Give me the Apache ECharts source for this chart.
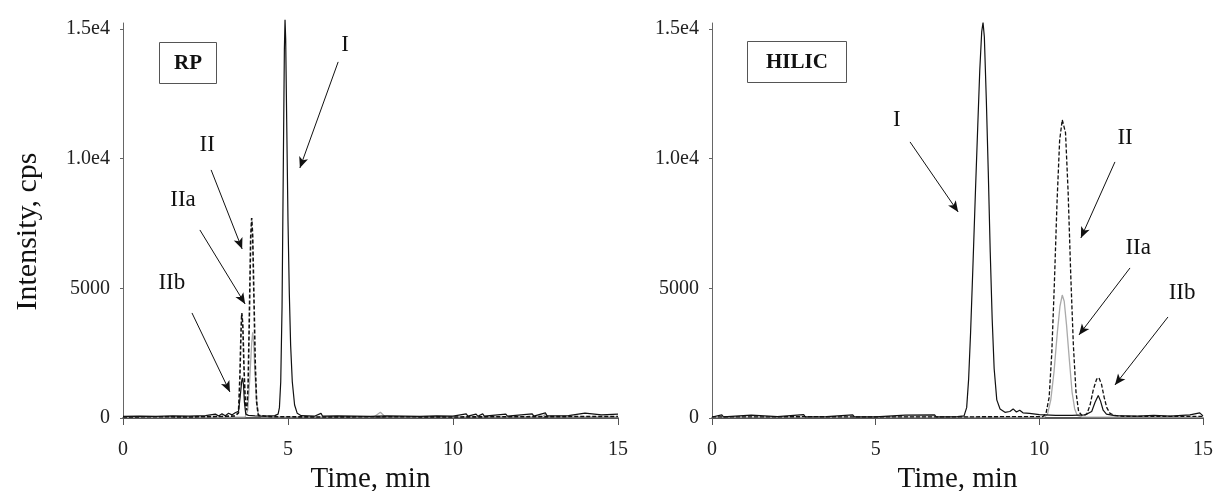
<!DOCTYPE html>
<html>
<head>
<meta charset="utf-8">
<script src="https://cdn.jsdelivr.net/npm/echarts@6/dist/echarts.min.js"></script>
<style>
  html, body { margin: 0; padding: 0; background: #fff; }
  #chart { width: 1219px; height: 491px; }
</style>
</head>
<body>
<div id="chart"></div>
<script>
// chromatograms, [time (min), intensity (cps)]
var rpSolid = [[0,60],[0.5,70],[1.0,60],[1.5,80],[2.0,70],[2.5,90],[2.8,150],[2.9,80],[3.0,160],[3.1,90],[3.2,180],[3.3,120],[3.4,200],[3.45,150],[3.5,260],[3.55,800],[3.6,1450],[3.62,1550],[3.65,1300],[3.68,600],[3.72,150],[3.8,100],[3.9,90],[4.0,80],[4.3,70],[4.6,90],[4.7,150],[4.74,400],[4.78,1400],[4.82,4300],[4.86,10000],[4.89,14200],[4.91,15350],[4.93,14600],[4.96,11500],[5.0,7600],[5.04,4800],[5.08,2800],[5.13,1400],[5.2,500],[5.28,180],[5.4,90],[5.8,70],[6.0,180],[6.05,70],[6.5,80],[7.0,70],[7.5,60],[8.0,80],[8.5,70],[9.0,60],[9.5,80],[10.0,70],[10.4,160],[10.45,70],[10.7,150],[10.75,70],[10.9,160],[10.95,70],[11.6,150],[11.65,70],[12.4,160],[12.45,70],[12.8,200],[12.85,80],[13.5,90],[14.0,190],[14.05,130],[14.5,120],[15,150]];
var rpDashed = [[0,40],[1,50],[2,40],[3,60],[3.4,80],[3.5,200],[3.54,1500],[3.58,3500],[3.6,4050],[3.63,3600],[3.67,1800],[3.71,500],[3.75,300],[3.79,1200],[3.83,4000],[3.87,7000],[3.9,7710],[3.93,7000],[3.97,4500],[4.01,2000],[4.05,600],[4.1,100],[4.5,50],[6,40],[8,50],[10,40],[12,50],[15,60]];
var rpGray = [[0,30],[3,30],[3.7,40],[3.78,300],[3.84,1500],[3.9,2900],[3.93,3300],[3.96,2900],[4.0,1700],[4.05,600],[4.1,150],[4.2,40],[7.6,40],[7.8,220],[7.85,180],[7.95,40],[12.7,40],[12.8,150],[12.9,40],[15,40]];

var hilicSolid = [[0,40],[0.3,120],[0.35,40],[1.2,110],[1.25,40],[2.0,50],[2.8,130],[2.85,40],[3.5,50],[4.3,120],[4.35,40],[5,40],[5.9,110],[5.95,40],[6.8,120],[6.85,40],[7.5,50],[7.7,80],[7.78,400],[7.84,1500],[7.9,3300],[7.97,5800],[8.05,8800],[8.12,11300],[8.18,13400],[8.24,14900],[8.28,15250],[8.32,14700],[8.38,12300],[8.44,9500],[8.5,6400],[8.56,3800],[8.62,1900],[8.7,700],[8.8,350],[8.95,220],[9.1,250],[9.2,350],[9.3,230],[9.4,300],[9.5,200],[9.7,180],[10.0,130],[10.5,100],[11.0,100],[11.4,120],[11.6,250],[11.7,600],[11.8,870],[11.87,650],[11.95,300],[12.05,150],[12.3,90],[13,70],[13.5,100],[14,70],[14.6,120],[14.9,200],[15,80]];
var hilicDashed = [[0,40],[3,50],[6,40],[9,50],[10.1,50],[10.2,150],[10.3,800],[10.38,2500],[10.46,5200],[10.54,8300],[10.62,10700],[10.7,11500],[10.75,11560],[10.8,11000],[10.88,8700],[10.96,5500],[11.04,2800],[11.12,1000],[11.2,250],[11.3,100],[11.45,150],[11.55,500],[11.65,1100],[11.75,1500],[11.82,1550],[11.9,1300],[11.98,800],[12.06,400],[12.16,180],[12.3,100],[12.6,60],[15,60]];
var hilicGray = [[0,30],[10.15,30],[10.25,150],[10.35,700],[10.45,1800],[10.55,3300],[10.63,4300],[10.7,4740],[10.76,4500],[10.83,3600],[10.92,2200],[11.0,1000],[11.08,350],[11.16,100],[11.3,40],[15,30]];

var xTicks = [0, 5, 10, 15];
var yTicks = [0, 5000, 10000, 15000];
var yTickLabels = ['0', '5000', '1.0e4', '1.5e4'];

// annotation: label, label position, arrow start, arrow tip
var rpNotes = [
  ['I', [6.73, 14385], [6.52, 13730], [5.36, 9640]],
  ['II', [2.55, 10530], [2.67, 9565], [3.61, 6518]],
  ['IIa', [1.82, 8407], [2.33, 7250], [3.70, 4396]],
  ['IIb', [1.48, 5206], [2.09, 4050], [3.24, 1003]]
];
var hilicNotes = [
  ['I', [5.65, 11492], [6.05, 10644], [7.52, 7944]],
  ['II', [12.62, 10798], [12.31, 9873], [11.27, 6942]],
  ['IIa', [13.02, 6556], [12.77, 5785], [11.21, 3201]],
  ['IIb', [14.36, 4821], [13.93, 3895], [12.31, 1273]]
];

var serif = 'Liberation Serif';

function xAxis(idx) {
  return {
    type: 'value', gridIndex: idx, min: 0, max: 15, interval: 5,
    name: 'Time, min', nameLocation: 'middle', nameGap: 46,
    nameTextStyle: { fontFamily: serif, fontSize: 29, color: '#111' },
    axisLine: { lineStyle: { color: '#222', width: 1.5 } },
    axisTick: { length: 7, lineStyle: { color: '#555' }, customValues: xTicks },
    axisLabel: { margin: 22, fontFamily: serif, fontSize: 20, color: '#222', customValues: xTicks },
    splitLine: { show: false }
  };
}

function yAxis(idx, withName) {
  return {
    type: 'value', gridIndex: idx, min: 0, max: 15230,
    name: withName ? 'Intensity, cps' : '', nameLocation: 'middle', nameGap: 80,
    nameTextStyle: { fontFamily: serif, fontSize: 30, color: '#111', padding: [0, 22, 0, 0] },
    axisLine: { show: true, lineStyle: { color: '#666', width: 1 } },
    axisTick: { show: true, length: 3, lineStyle: { color: '#666' }, customValues: yTicks },
    axisLabel: {
      margin: 13, fontFamily: serif, fontSize: 20, color: '#222', customValues: yTicks,
      formatter: function (v) { return yTickLabels[yTicks.indexOf(v)]; }
    },
    splitLine: { show: false }
  };
}

function line(idx, data, color, width, dash) {
  return {
    type: 'line', xAxisIndex: idx, yAxisIndex: idx, data: data,
    showSymbol: false, clip: false, silent: true, animation: false,
    lineStyle: { color: color, width: width, type: dash || 'solid' }
  };
}

function notes(idx, list) {
  return {
    type: 'line', xAxisIndex: idx, yAxisIndex: idx, data: [], silent: true, animation: false,
    markLine: {
      symbol: ['none', 'arrow'], symbolSize: [7, 11], animation: false, silent: true,
      label: { show: false },
      lineStyle: { color: '#111', width: 1, type: 'solid' },
      data: list.map(function (n) { return [{ coord: n[2] }, { coord: n[3] }]; })
    },
    markPoint: {
      symbol: 'circle', symbolSize: 0, animation: false, silent: true,
      label: { show: true, position: 'inside', fontFamily: serif, fontSize: 23, color: '#111',
        formatter: function (p) { return p.name; } },
      data: list.map(function (n) { return { name: n[0], coord: n[1] }; })
    }
  };
}

var chart = echarts.init(document.getElementById('chart'));
chart.setOption({
  backgroundColor: '#fff',
  animation: false,
  title: [
    { text: 'RP', left: 159, top: 42, padding: [11, 15, 10, 15], borderColor: '#555', borderWidth: 1,
      textStyle: { fontFamily: serif, fontWeight: 'bold', fontSize: 21, color: '#111' } },
    { text: 'HILIC', left: 747, top: 41, padding: [11, 19, 10, 19], borderColor: '#555', borderWidth: 1,
      textStyle: { fontFamily: serif, fontWeight: 'bold', fontSize: 21, color: '#111' } }
  ],
  grid: [
    { left: 123, right: 601, top: 23, bottom: 73, outerBoundsMode: 'none' },
    { left: 712, right: 16, top: 23, bottom: 73, outerBoundsMode: 'none' }
  ],
  xAxis: [xAxis(0), xAxis(1)],
  yAxis: [yAxis(0, true), yAxis(1, false)],
  series: [
    line(0, rpGray, '#aaaaaa', 1.3),
    line(0, rpDashed, '#111', 1.6, [4, 2]),
    line(0, rpSolid, '#111', 1.2),
    notes(0, rpNotes),
    line(1, hilicGray, '#aaaaaa', 1.3),
    line(1, hilicDashed, '#111', 1.3, [4, 2]),
    line(1, hilicSolid, '#111', 1.2),
    notes(1, hilicNotes)
  ]
});
</script>
</body>
</html>
